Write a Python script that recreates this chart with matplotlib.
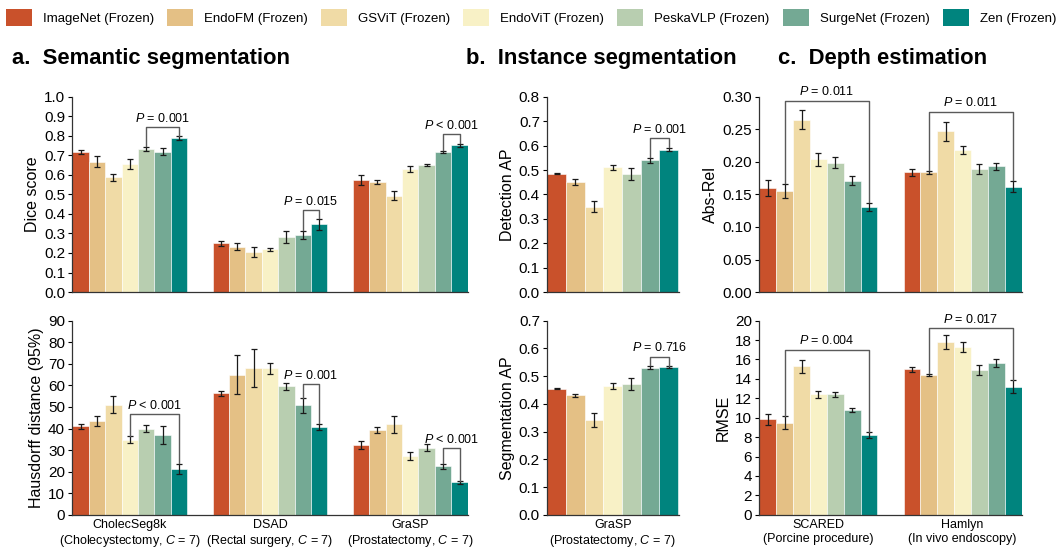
import numpy as np
import matplotlib
matplotlib.use("Agg")
import matplotlib.pyplot as plt
from matplotlib.patches import Patch

plt.rcParams["font.family"] = ["Liberation Sans", "DejaVu Sans"]
plt.rcParams["mathtext.fontset"] = "custom"
plt.rcParams["mathtext.rm"] = "Liberation Sans"
plt.rcParams["mathtext.it"] = "Liberation Sans:italic"

models = ["ImageNet (Frozen)", "EndoFM (Frozen)", "GSViT (Frozen)", "EndoViT (Frozen)",
          "PeskaVLP (Frozen)", "SurgeNet (Frozen)", "Zen (Frozen)"]
colors = ["#C9512B", "#E4C085", "#F0DBA6", "#F8F1C6", "#B8CEB0", "#74A994", "#00847E"]

seg_labels = ["CholecSeg8k\n(Cholecystectomy, $\\it{C}$ = 7)",
              "DSAD\n(Rectal surgery, $\\it{C}$ = 7)",
              "GraSP\n(Prostatectomy, $\\it{C}$ = 7)"]
inst_labels = ["GraSP\n(Prostatectomy, $\\it{C}$ = 7)"]
depth_labels = ["SCARED\n(Porcine procedure)", "Hamlyn\n(In vivo endoscopy)"]

# rows = datasets, cols = models
dice = [[0.715, 0.668, 0.587, 0.655, 0.733, 0.718, 0.787],
        [0.250, 0.232, 0.205, 0.218, 0.282, 0.292, 0.347],
        [0.575, 0.565, 0.493, 0.630, 0.653, 0.718, 0.752]]
dice_err = [[0.010, 0.028, 0.020, 0.025, 0.012, 0.018, 0.010],
            [0.012, 0.018, 0.025, 0.010, 0.030, 0.020, 0.027],
            [0.025, 0.010, 0.022, 0.015, 0.005, 0.005, 0.007]]
hd95 = [[41.0, 43.5, 51.0, 34.8, 40.0, 36.8, 21.3],
        [56.3, 65.0, 68.0, 68.0, 59.5, 50.7, 40.7],
        [32.2, 39.3, 42.0, 27.3, 31.0, 22.5, 15.0]]
hd95_err = [[1.0, 2.5, 4.0, 1.5, 1.8, 4.2, 2.3],
            [1.2, 9.0, 8.7, 2.6, 1.8, 3.3, 1.6],
            [1.8, 1.5, 4.0, 1.8, 1.6, 1.2, 0.5]]
det_ap = [[0.485, 0.452, 0.350, 0.511, 0.485, 0.540, 0.583]]
det_ap_err = [[0.003, 0.013, 0.023, 0.010, 0.025, 0.010, 0.007]]
seg_ap = [[0.455, 0.431, 0.342, 0.466, 0.472, 0.530, 0.532]]
seg_ap_err = [[0.002, 0.006, 0.024, 0.011, 0.021, 0.006, 0.003]]
abs_rel = [[0.160, 0.155, 0.265, 0.204, 0.199, 0.171, 0.131],
           [0.184, 0.184, 0.247, 0.218, 0.189, 0.193, 0.162]]
abs_rel_err = [[0.012, 0.011, 0.015, 0.010, 0.009, 0.007, 0.006],
               [0.005, 0.002, 0.015, 0.006, 0.007, 0.005, 0.009]]
rmse = [[9.85, 9.5, 15.3, 12.4, 12.4, 10.8, 8.2],
        [15.0, 14.4, 17.8, 17.25, 14.9, 15.6, 13.2]]
rmse_err = [[0.55, 0.65, 0.65, 0.4, 0.3, 0.25, 0.3],
            [0.25, 0.12, 0.7, 0.5, 0.5, 0.4, 0.65]]

# (group, model_a, model_b, bracket height, text)
dice_p = [(0, 4, 6, 0.845, "$\\it{P}$ = 0.001"), (1, 5, 6, 0.42, "$\\it{P}$ = 0.015"),
          (2, 5, 6, 0.81, "$\\it{P}$ < 0.001")]
hd95_p = [(0, 3, 6, 46.5, "$\\it{P}$ < 0.001"), (1, 5, 6, 60.5, "$\\it{P}$ = 0.001"),
          (2, 5, 6, 31.0, "$\\it{P}$ < 0.001")]
det_p = [(0, 5, 6, 0.63, "$\\it{P}$ = 0.001")]
seg_ap_p = [(0, 5, 6, 0.57, "$\\it{P}$ = 0.716")]
abs_rel_p = [(0, 1, 6, 0.294, "$\\it{P}$ = 0.011"), (1, 1, 6, 0.277, "$\\it{P}$ = 0.011")]
rmse_p = [(0, 1, 6, 17.0, "$\\it{P}$ = 0.004"), (1, 1, 6, 19.2, "$\\it{P}$ = 0.017")]

W = 0.117


def panel(ax, vals, errs, pvals, ylim, yticks, ylabel, xlabels=None, fmt="%.1f"):
    vals = np.array(vals)
    errs = np.array(errs)
    n = vals.shape[0]
    x = np.arange(n)
    for j in range(7):
        xs = x + (j - 3) * W
        ax.bar(xs, vals[:, j], W, color=colors[j], edgecolor="white", linewidth=0.4)
        ax.errorbar(xs, vals[:, j], yerr=errs[:, j], fmt="none", ecolor="#1a1a1a",
                    elinewidth=0.9, capsize=2.5, capthick=0.9)
    gap = 0.012 * ylim[1]
    for g, a, b, h, txt in pvals:
        xa = g + (a - 3) * W
        xb = g + (b - 3) * W
        ya = vals[g, a] + errs[g, a] + gap * 0.3
        yb = vals[g, b] + errs[g, b] + gap * 0.3
        ax.plot([xa, xa, xb, xb], [ya, h, h, yb], color="#5a5a5a", lw=1.0)
        ax.text((xa + xb) / 2, h + gap, txt, ha="center", va="bottom", fontsize=9)
    ax.set_xlim(-3.5 * W - 0.003, n - 1 + 3.5 * W + 0.003)
    ax.set_ylim(*ylim)
    ax.set_yticks(yticks)
    ax.yaxis.set_major_formatter(matplotlib.ticker.FormatStrFormatter(fmt))
    ax.set_ylabel(ylabel, fontsize=11.5, labelpad=3)
    ax.spines["top"].set_visible(False)
    ax.spines["right"].set_visible(False)
    ax.tick_params(axis="y", labelsize=11, length=3, pad=2)
    ax.tick_params(axis="x", length=0, labelsize=9, pad=3)
    ax.set_xticks(x)
    if xlabels:
        ax.set_xticklabels(xlabels)
    else:
        ax.set_xticklabels([])
    for s in ax.spines.values():
        s.set_linewidth(0.9)
        s.set_color("#333333")


fig = plt.figure(figsize=(10.62, 5.5), dpi=100)
top_b, top_h = 0.469, 0.355
bot_b, bot_h = 0.064, 0.353

ax = fig.add_axes([0.0678, top_b, 0.373, top_h])
panel(ax, dice, dice_err, dice_p, (0, 1.0), np.arange(0, 1.01, 0.1), "Dice score")
ax = fig.add_axes([0.0678, bot_b, 0.373, bot_h])
panel(ax, hd95, hd95_err, hd95_p, (0, 90), np.arange(0, 91, 10), "Hausdorff distance (95%)",
      seg_labels, fmt="%d")

ax = fig.add_axes([0.515, top_b, 0.124, top_h])
panel(ax, det_ap, det_ap_err, det_p, (0, 0.8), np.arange(0, 0.81, 0.1), "Detection AP")
ax = fig.add_axes([0.515, bot_b, 0.124, bot_h])
panel(ax, seg_ap, seg_ap_err, seg_ap_p, (0, 0.7), np.arange(0, 0.71, 0.1), "Segmentation AP",
      inst_labels)

ax = fig.add_axes([0.7147, top_b, 0.2476, top_h])
panel(ax, abs_rel, abs_rel_err, abs_rel_p, (0, 0.30), np.arange(0, 0.301, 0.05), "Abs-Rel",
      fmt="%.2f")
ax = fig.add_axes([0.7147, bot_b, 0.2476, bot_h])
panel(ax, rmse, rmse_err, rmse_p, (0, 20), np.arange(0, 21, 2), "RMSE", depth_labels, fmt="%d")

fig.text(0.011, 0.884, "a.  Semantic segmentation", fontsize=15.8, fontweight="bold")
fig.text(0.439, 0.884, "b.  Instance segmentation", fontsize=15.8, fontweight="bold")
fig.text(0.733, 0.884, "c.  Depth estimation", fontsize=15.8, fontweight="bold")

handles = [Patch(facecolor=c, edgecolor="none") for c in colors]
fig.legend(handles, models, loc="upper center", bbox_to_anchor=(0.5, 1.0), ncol=7,
           frameon=False, fontsize=9.5, handlelength=1.97, handleheight=1.6,
           columnspacing=1.0, handletextpad=0.83, borderaxespad=0.3)

fig.savefig("out.png", dpi=100)
